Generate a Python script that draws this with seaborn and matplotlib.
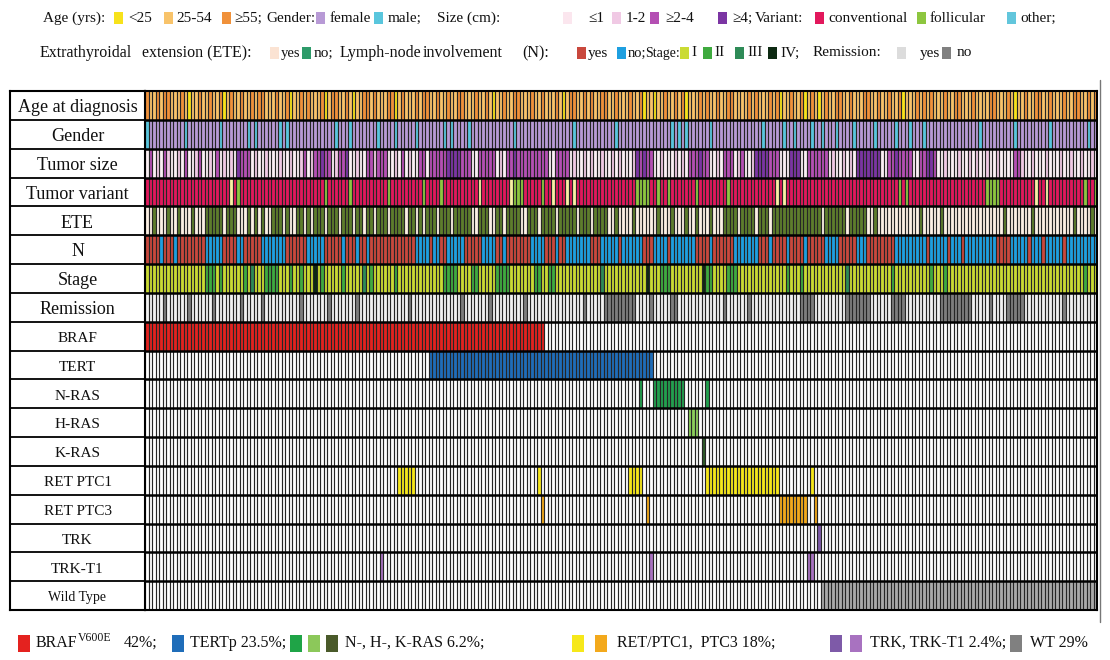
import numpy as np
import pandas as pd
import matplotlib
matplotlib.use("Agg")
import matplotlib.pyplot as plt
from matplotlib.colors import ListedColormap
from matplotlib.patches import Rectangle
from matplotlib.lines import Line2D
import seaborn as sns

W, H = 1110, 660
N_PAT = 272

ROWS = ["Age at diagnosis", "Gender", "Tumor size", "Tumor variant", "ETE", "N", "Stage",
        "Remission", "BRAF", "TERT", "N-RAS", "H-RAS", "K-RAS", "RET PTC1", "RET PTC3",
        "TRK", "TRK-T1", "Wild Type"]

# ---- clinical rows (one character per patient) ----
# age: y <25, l 25-54, o >=55
age = ("olloloolllolyllo" "llolloylollollol" "oolllolloyllolol" "lloyloollolylloo"
       "lolllooylolllolo" "ollollolloolllol" "lolyllolloolllol" "lolllolyloollolo"
       "lloollolllolloyl" "lyllolloloylllol" "ollolloollllolol" "lloloyllolloylol"
       "ylolloollolllool" "lollolloylllolol" "olllolloolllolll" "loolllolyllolloo"
       "llolllolloollolo")
gender_male = [0, 11, 21, 29, 31, 38, 40, 54, 58, 66, 71, 77, 85, 87, 92, 105, 122, 134,
               150, 152, 154, 161, 176, 182, 185, 190, 193, 197, 202, 208, 214, 218, 222,
               238, 248, 258, 269]
# size: a <=1, b 1-2, c 2-4, d >=4
size = ("acabacbaabacaabc" "aabacababadcccab" "aabaaabaabaabcab" "ccdccabccdaabaac"
        "cbcccaabacabaacc" "acccccddddcccaac" "ccccabaccdcccccc" "cccaaccccabaabab"
        "aabaababaaabdcdc" "caabaaababacccdc" "caabacccabcaabdd" "ddcccaaadddaaccc"
        "cccabaababaddddd" "ddaaccdccccaaccd" "dcaabaaabaababaa" "baabaaaaccbaabaa"
        "abaaabaabaabaaba")
variant_follicular = [26, 51, 58, 69, 79, 84, 105, 106, 107, 113, 140, 141, 142, 143, 146,
                      149, 157, 166, 215, 217, 240, 241, 242, 243, 268, 271]
variant_other = [24, 95, 104, 116, 120, 122, 180, 182, 254, 257]
# ETE: y yes, n no
ete = ("yynyyynyynyyynyy" "ynnnnnynnnyyynyn" "ynyynnnynyynnyny" "nnnynnnynnnynnyn"
       "nynnnynnnnynnyny" "nnnynnnynnnnnyyn" "nnyynnynnnnyynnn" "ynnnnynnnnnynnny"
       "nnnnyynyyyynyyyy" "yynyyynyyynyynyy" "ynyyynnnnynnnnyn" "nnynnnnnnnnnnnnn"
       "nynnnnnnynnnnnyy" "nyyyyyyyyyyyynyy" "yyynyyyyyyyyyyyy" "yyyyynyyyyyyynyy"
       "yyyyyyyyynyyyyny")
# lymph node: y yes, n no
nodes = ("yyyynyyynyyyyyyy" "ynnnnnyyyynnyyyy" "ynnnnnnnyyyyyynn" "nnnyyyyynyyynyyn"
         "yyyyyyyyyyyyynnn" "nynnyynnnnnyyyyy" "nnnnyynyyyyyyynn" "nnyyynyynnnnnnny"
         "yynnnnnynnnnnnyy" "ynnnnynnnnnnnyyy" "ynyyyyyynnnnnnny" "yynyyyynyyyynyyy"
         "yynnnnyyyyynnnyy" "yyyyyynnnnnnnnny" "nnnnnynnnynnnnnn" "nnnyyyynnnnnynnn"
         "ynnnnnynnnnnnnnn")
stage_2 = [17, 18, 19, 21, 28, 34, 35, 36, 37, 41, 44, 50, 56, 64, 71, 85, 86, 87, 88, 93,
           94, 100, 101, 102, 103, 111, 112, 115, 116, 147, 148, 149, 160, 161, 166, 167,
           168, 183, 187, 213, 224, 228, 268]
stage_3 = [30, 62, 130, 200]
stage_4 = [48, 143, 159]
remission_no = [5, 12, 19, 27, 33, 44, 52, 60, 75, 90, 98, 108, 125, 131, 132, 133, 134,
                135, 136, 137, 138, 139, 144, 150, 151, 165, 172, 187, 188, 189, 190, 200,
                201, 202, 203, 204, 205, 206, 213, 214, 215, 216, 227, 228, 229, 230, 231,
                232, 233, 234, 235, 241, 246, 247, 248, 249, 250, 262]

# ---- genomic rows (first, last patient of each run) ----
braf_runs = [(0, 113)]
tert_runs = [(81, 144)]
nras_runs = [(141, 141), (145, 153), (160, 160)]
hras_runs = [(155, 157)]
kras_runs = [(159, 159)]
ptc1_runs = [(72, 76), (112, 112), (138, 141), (160, 180), (190, 190)]
ptc3_runs = [(113, 113), (143, 143), (181, 188), (191, 191)]
trk_runs = [(192, 192)]
trkt1_runs = [(67, 67), (144, 144), (189, 190)]
wt_runs = [(193, 271)]

WHITE = "#ffffff"
AGE_C = {"y": "#f7e21b", "l": "#f8c36a", "o": "#f0913a"}
GENDER_C = {"f": "#b89ad6", "m": "#59c6dd"}
SIZE_C = {"a": "#fbf0f4", "b": "#f0c9e4", "c": "#b44fb3", "d": "#7b35a3"}
VAR_C = {"c": "#e2185c", "f": "#8dc63f", "o": "#f8f1a4"}
ETE_C = {"y": "#fcf0e4", "n": "#5e7d2c"}
N_C = {"y": "#c9483d", "n": "#1e9fe0"}
STAGE_C = {1: "#cadb33", 2: "#3faa3f", 3: "#2e8b57", 4: "#0d2a12"}
REM_C = {"y": "#f2f2f2", "n": "#7d7d7d"}
GENE_C = ["#e4221f", "#1f6db9", "#22a04e", "#8bcf5b", "#2f5e2a", "#f6e81a", "#f3a91c",
          "#7e5aa8", "#a872c0", "#a9a9a9"]

assert all(len(s) == N_PAT for s in (age, size, ete, nodes))


def from_string(s, cmap):
    return [cmap[ch] for ch in s]


def from_index(default, extra):
    row = [default] * N_PAT
    for color, idx in extra:
        for j in idx:
            row[j] = color
    return row


def from_runs(runs, color):
    row = [WHITE] * N_PAT
    for a, b in runs:
        for j in range(a, b + 1):
            row[j] = color
    return row


cells = [
    from_string(age, AGE_C),
    from_index(GENDER_C["f"], [(GENDER_C["m"], gender_male)]),
    from_string(size, SIZE_C),
    from_index(VAR_C["c"], [(VAR_C["f"], variant_follicular), (VAR_C["o"], variant_other)]),
    from_string(ete, ETE_C),
    from_string(nodes, N_C),
    from_index(STAGE_C[1], [(STAGE_C[2], stage_2), (STAGE_C[3], stage_3), (STAGE_C[4], stage_4)]),
    from_index(REM_C["y"], [(REM_C["n"], remission_no)]),
]
for runs, col in zip([braf_runs, tert_runs, nras_runs, hras_runs, kras_runs, ptc1_runs,
                      ptc3_runs, trk_runs, trkt1_runs, wt_runs], GENE_C):
    cells.append(from_runs(runs, col))

flat = pd.Series(np.array(cells).ravel())
codes, uniques = pd.factorize(flat)
mat = pd.DataFrame(codes.reshape(len(ROWS), N_PAT), index=ROWS)

sns.set_theme(style="white")
plt.rcParams["font.family"] = ["Liberation Serif", "DejaVu Serif"]

fig = plt.figure(figsize=(W / 100, H / 100), dpi=100)


def fx(x):
    return x / W


def fy(y):
    return 1 - y / H


top, bot = 91, 610
gx0, gx1 = 145, 1097
ax = fig.add_axes([fx(gx0), fy(bot), fx(gx1 - gx0), (bot - top) / H])
sns.heatmap(mat, ax=ax, cmap=ListedColormap(list(uniques)), vmin=-0.5,
            vmax=len(uniques) - 0.5, cbar=False, linewidths=0,
            xticklabels=False, yticklabels=False)
# column separators, then the row rules
ax.vlines(np.arange(1, N_PAT), 0, len(ROWS), colors="#262626", lw=0.85)
ax.hlines(np.arange(1, len(ROWS)), 0, N_PAT, colors="black", lw=1.8)
for s in ax.spines.values():
    s.set_visible(True)
    s.set_color("black")
    s.set_linewidth(1.5)
ax.set_xlabel("")
ax.set_ylabel("")

# label column
lax = fig.add_axes([fx(10), fy(bot), fx(gx0 - 10), (bot - top) / H])
lax.set_xlim(0, 1)
lax.set_ylim(len(ROWS), 0)
lax.hlines(np.arange(1, len(ROWS)), 0, 1, colors="black", lw=1.3)
lax.set_xticks([])
lax.set_yticks([])
for s in lax.spines.values():
    s.set_visible(True)
    s.set_color("black")
    s.set_linewidth(1.5)
for i, name in enumerate(ROWS):
    if i < 8:
        fs = 13
    elif name == "Wild Type":
        fs = 10
    else:
        fs = 11
    lax.text(0.5, i + 0.58, name, ha="center", va="center", fontsize=fs, color="#111111")

fig.add_artist(Line2D([fx(1100), fx(1100)], [fy(80), fy(622)], color="#777777", lw=1))


def legend_item(x, y, color, w=9, h=11):
    fig.add_artist(Rectangle((fx(x), fy(y + h / 2)), w / W, h / H, facecolor=color,
                             edgecolor="none", transform=fig.transFigure))


def legend_text(x, y, s, fs=11, va="center"):
    fig.text(fx(x), fy(y), s, ha="left", va=va, fontsize=fs, color="#111111")


# top legend, line 1
y1 = 18
for tx, lab in [(43, "Age (yrs):"), (128, "<25"), (176, "25-54"), (234, "≥55;"),
                (266, "Gender:"), (330, "female"), (388, "male;"), (437, "Size (cm):"),
                (588, "≤1"), (626, "1-2"), (665, "≥2-4"), (732, "≥4;"), (755, "Variant:"),
                (828, "conventional"), (930, "follicular"), (1020, "other;")]:
    legend_text(tx, y1, lab)
for sx, col in [(114, "#f7e21b"), (164, "#f8c36a"), (222, "#f0913a"), (316, "#b89ad6"),
                (374, "#59c6dd"), (563, "#fbe6ee"), (612, "#f0c9e4"), (650, "#b44fb3"),
                (718, "#7b35a3"), (815, "#e2185c"), (917, "#8dc63f"), (1007, "#62c6dc")]:
    legend_item(sx, y1, col)

# top legend, line 2
y2 = 53
for tx, lab, fs in [(40, "Extrathyroidal", 11.5), (142, "extension (ETE):", 11.5),
                    (281, "yes", 10.5), (314, "no;", 11), (340, "Lymph-node", 11.5),
                    (423, "involvement", 11.5), (522, "(N):", 11.5), (588, "yes", 11),
                    (628, "no;", 10.5), (645, "Stage:", 10), (691, "I", 11),
                    (714, "II", 11), (747, "III", 11), (780, "IV;", 11),
                    (813, "Remission:", 11), (920, "yes", 11), (957, "no", 11)]:
    legend_text(tx, y2, lab, fs=fs)
for sx, col in [(270, "#fbe3d3"), (302, "#2e9b6a"), (577, "#c9483d"), (617, "#1e9fe0"),
                (680, "#cadb33"), (703, "#3faa3f"), (735, "#2e8b57"), (768, "#0d2a12"),
                (897, "#dcdcdc"), (942, "#808080")]:
    legend_item(sx, y2, col)

# bottom legend
yb = 643
for sx, col in [(18, "#e4221f"), (172, "#1f6db9"), (290, "#1fa447"), (308, "#8cc85a"),
                (326, "#4a5a2a"), (572, "#f6e81a"), (595, "#f3a91c"), (830, "#7e5aa8"),
                (850, "#a872c0"), (1010, "#808080")]:
    legend_item(sx, yb, col, w=12, h=17)
legend_text(36, yb, "BRAF", fs=11.5)
legend_text(78, yb - 5, "V600E", fs=8.5)
for tx, lab in [(124, "42%;"), (190, "TERTp 23.5%;"), (345, "N-, H-, K-RAS 6.2%;"),
                (617, "RET/PTC1,  PTC3 18%;"), (870, "TRK, TRK-T1 2.4%;"), (1030, "WT 29%")]:
    legend_text(tx, yb, lab, fs=11.5)

fig.savefig("out.png", dpi=100, facecolor="white")
